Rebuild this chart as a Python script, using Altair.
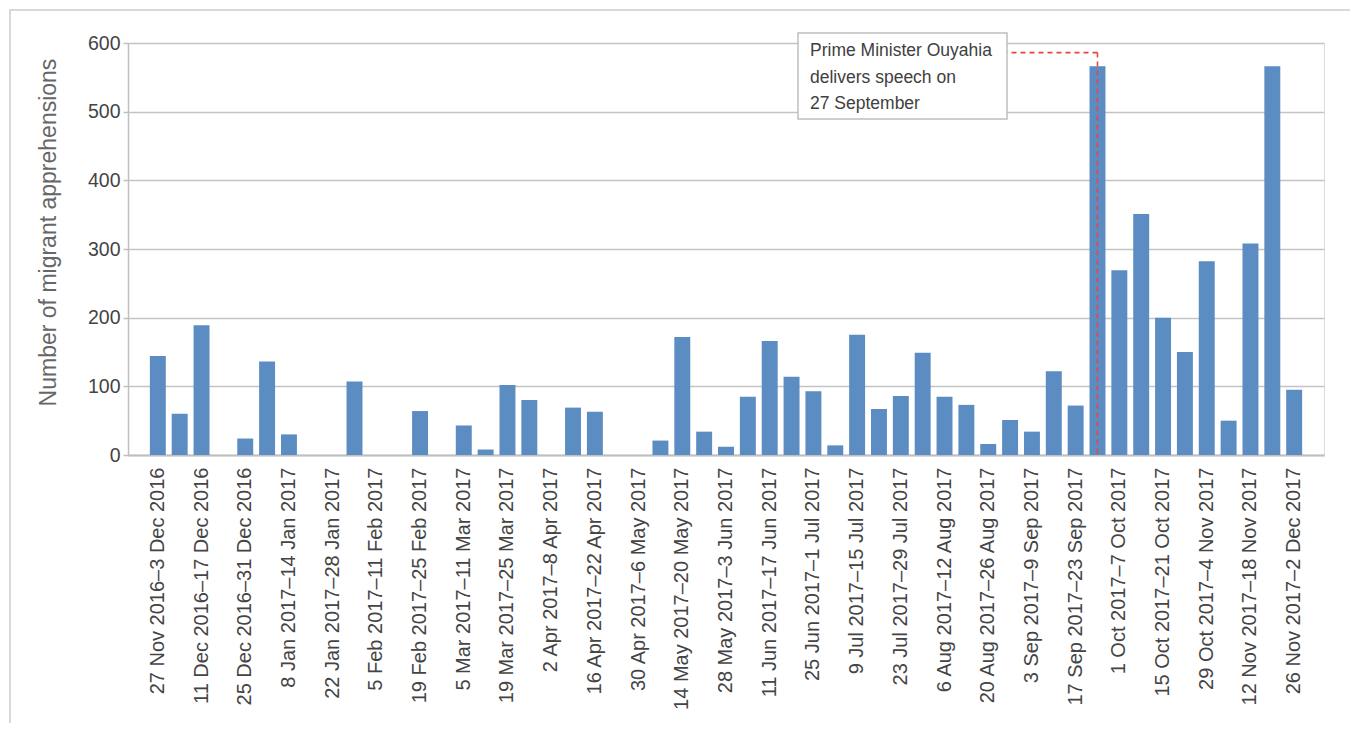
import altair as alt
import pandas as pd

weeks = [
    "27 Nov 2016–3 Dec 2016", "4 Dec 2016–10 Dec 2016", "11 Dec 2016–17 Dec 2016",
    "18 Dec 2016–24 Dec 2016", "25 Dec 2016–31 Dec 2016", "1 Jan 2017–7 Jan 2017",
    "8 Jan 2017–14 Jan 2017", "15 Jan 2017–21 Jan 2017", "22 Jan 2017–28 Jan 2017",
    "29 Jan 2017–4 Feb 2017", "5 Feb 2017–11 Feb 2017", "12 Feb 2017–18 Feb 2017",
    "19 Feb 2017–25 Feb 2017", "26 Feb 2017–4 Mar 2017", "5 Mar 2017–11 Mar 2017",
    "12 Mar 2017–18 Mar 2017", "19 Mar 2017–25 Mar 2017", "26 Mar 2017–1 Apr 2017",
    "2 Apr 2017–8 Apr 2017", "9 Apr 2017–15 Apr 2017", "16 Apr 2017–22 Apr 2017",
    "23 Apr 2017–29 Apr 2017", "30 Apr 2017–6 May 2017", "7 May 2017–13 May 2017",
    "14 May 2017–20 May 2017", "21 May 2017–27 May 2017", "28 May 2017–3 Jun 2017",
    "4 Jun 2017–10 Jun 2017", "11 Jun 2017–17 Jun 2017", "18 Jun 2017–24 Jun 2017",
    "25 Jun 2017–1 Jul 2017", "2 Jul 2017–8 Jul 2017", "9 Jul 2017–15 Jul 2017",
    "16 Jul 2017–22 Jul 2017", "23 Jul 2017–29 Jul 2017", "30 Jul 2017–5 Aug 2017",
    "6 Aug 2017–12 Aug 2017", "13 Aug 2017–19 Aug 2017", "20 Aug 2017–26 Aug 2017",
    "27 Aug 2017–2 Sep 2017", "3 Sep 2017–9 Sep 2017", "10 Sep 2017–16 Sep 2017",
    "17 Sep 2017–23 Sep 2017", "24 Sep 2017–30 Sep 2017", "1 Oct 2017–7 Oct 2017",
    "8 Oct 2017–14 Oct 2017", "15 Oct 2017–21 Oct 2017", "22 Oct 2017–28 Oct 2017",
    "29 Oct 2017–4 Nov 2017", "5 Nov 2017–11 Nov 2017", "12 Nov 2017–18 Nov 2017",
    "19 Nov 2017–25 Nov 2017", "26 Nov 2017–2 Dec 2017",
]

apprehensions = [
    144, 60, 189, 0, 24, 136, 30, 0, 0, 107,
    0, 0, 64, 0, 43, 8, 102, 80, 0, 69,
    63, 0, 0, 21, 172, 34, 12, 85, 166, 114,
    93, 14, 175, 67, 86, 149, 85, 73, 16, 51,
    34, 122, 72, 566, 269, 351, 200, 150, 282, 50,
    308, 566, 95,
]

tick_labels = weeks[::2]
y_ticks = [0, 100, 200, 300, 400, 500, 600]

annotation_text = ["Prime Minister Ouyahia", "delivers speech on", "27 September"]
annotation_week = ["24 Sep 2017–30 Sep 2017"]
annotation_top = [586]
annotation_bottom = [0]

df = pd.DataFrame({"week": weeks, "value": apprehensions})
ann = pd.DataFrame({"week": annotation_week, "top": annotation_top, "bottom": annotation_bottom})
txt = pd.DataFrame({"label": ["\n".join(annotation_text)]})

FONT = "Liberation Sans"

x_scale = alt.Scale(domain=weeks, paddingInner=0.27, paddingOuter=1.0)
y_scale = alt.Scale(domain=[0, 600], nice=False)

x_axis = alt.Axis(
    values=tick_labels, labelAngle=270, labelFontSize=20, labelColor="#444444",
    labelLimit=400, labelPadding=12, ticks=False, domainColor="#bfbfbf",
    domainWidth=2, grid=False, title=None, labelFont=FONT,
)
y_axis = alt.Axis(
    values=y_ticks, grid=True, gridColor="#c4c4c4", gridWidth=1.5,
    domainColor="#bfbfbf", domainWidth=1.5, tickColor="#bfbfbf", tickSize=5,
    tickWidth=1.5, labelFontSize=19.5, labelColor="#444444", labelPadding=3,
    labelFont=FONT, title="Number of migrant apprehensions", titleFontSize=23,
    titleFontWeight="normal", titleColor="#666666", titleFont=FONT,
    titleAngle=270, titleX=-73, titleY=189, titleAlign="center",
    titleBaseline="alphabetic", titleLimit=600,
)

frame = alt.Chart(txt).mark_rect(
    fill=None, stroke="#d9d9d9", strokeWidth=2
).encode(
    x=alt.value(-118), x2=alt.value(1400), y=alt.value(-33), y2=alt.value(900)
)

bars = alt.Chart(df).mark_bar(color="#5b8dc2").encode(
    x=alt.X("week:N", scale=x_scale, axis=x_axis, sort=weeks),
    y=alt.Y("value:Q", scale=y_scale, axis=y_axis),
)

vline = alt.Chart(ann).mark_rule(
    color="#e8453c", strokeDash=[5, 4], strokeWidth=1.6
).encode(
    x=alt.X("week:N", scale=x_scale, sort=weeks),
    y=alt.Y("top:Q", scale=y_scale),
    y2="bottom:Q",
)

hline = alt.Chart(ann).mark_rule(
    color="#e8453c", strokeDash=[5, 4], strokeWidth=1.6
).encode(
    x=alt.X("week:N", scale=x_scale, sort=weeks),
    x2=alt.value(879),
    y=alt.Y("top:Q", scale=y_scale),
)

box = alt.Chart(txt).mark_rect(
    fill="white", stroke="#bfbfbf", strokeWidth=1.5
).encode(
    x=alt.value(670), x2=alt.value(879), y=alt.value(-10), y2=alt.value(76)
)

label = alt.Chart(txt).mark_text(
    align="left", baseline="alphabetic", fontSize=17.5, font=FONT,
    color="#404040", lineBreak="\n", lineHeight=26.5,
).encode(
    x=alt.value(682), y=alt.value(13), text="label:N"
)

chart = alt.layer(frame, bars, vline, hline, box, label).properties(
    width=1196, height=412,
    autosize=alt.AutoSizeParams(type="none"),
    padding={"left": 120, "top": 35, "right": 26, "bottom": 268},
).configure_view(stroke=None).configure(font=FONT)

chart.save("out.html", embed_options={"renderer": "svg", "actions": False})
